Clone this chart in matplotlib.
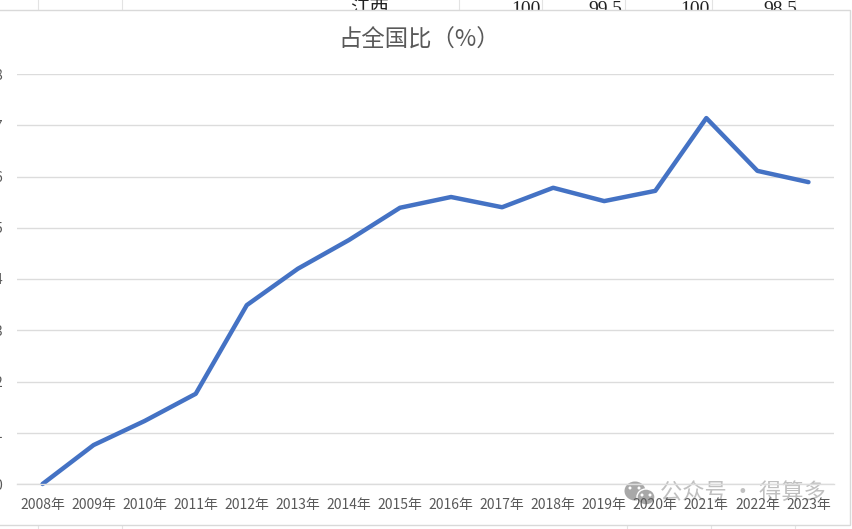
import matplotlib
matplotlib.use('Agg')
import matplotlib.pyplot as plt
from matplotlib.patches import Ellipse, Rectangle

plt.rcParams['font.family'] = ['Noto Sans CJK SC', 'DejaVu Sans']

W, H = 853, 529

years = ['%d年' % y for y in range(2008, 2024)]
share = [0, 0.76, 1.23, 1.76, 3.49, 4.2, 4.76, 5.39, 5.6, 5.4, 5.78, 5.52, 5.72, 7.14, 6.11, 5.89]
y_ticks = [0, 1, 2, 3, 4, 5, 6, 7, 8]

# strip of the spreadsheet showing above the chart
sheet_row = ['江西', '100', '99.5', '100', '98.5']
sheet_x = [370, 526, 605, 695, 780]
sheet_cols = [38, 122, 459, 542, 625, 712, 795]
below_cols = [38, 122, 627, 711, 795]

fig = plt.figure(figsize=(W / 100, H / 100), dpi=100, facecolor='white')

# overlay in pixel coordinates for the frame, sheet scraps and watermark
bg = fig.add_axes([0, 0, 1, 1], zorder=0)
bg.set_xlim(0, W)
bg.set_ylim(H, 0)
bg.axis('off')
for x in sheet_cols:
    bg.plot([x, x], [0, 10], color='#e3e3e3', lw=0.8, zorder=1)
for x in below_cols:
    bg.plot([x, x], [525, 529], color='#e3e3e3', lw=0.8, zorder=1)
for txt, x in zip(sheet_row, sheet_x):
    bg.text(x, 14, txt, ha='center', va='baseline', fontsize=14, color='#222222',
            family=['Liberation Serif', 'Noto Sans CJK SC'], zorder=2)
# white chart area hides the lower part of the sheet row
bg.add_patch(Rectangle((-5, 10), 855, 515, fc='white', ec='#d9d9d9', lw=1, zorder=3))

# watermark sits under the tick labels
wm = fig.add_axes([0, 0, 1, 1], zorder=1)
wm.set_xlim(0, W)
wm.set_ylim(H, 0)
wm.axis('off')
wm.add_patch(Ellipse((635, 491), 21, 19, fc='#a8a8a8', lw=0))
wm.add_patch(Ellipse((646, 497), 18, 16, fc='#a8a8a8', ec='white', lw=1))
for ex, ey in [(630, 488), (639, 488), (642, 495), (650, 495)]:
    wm.add_patch(Ellipse((ex, ey), 3, 3, fc='white', lw=0))
wm.text(743, 492, '公众号 · 得算多', ha='center', va='center', fontsize=16, color='#c0c0c0')

ax = fig.add_axes([17 / W, 1 - 484 / H, (834 - 17) / W, (484 - 74) / H], zorder=2)
ax.patch.set_alpha(0)
x_pos = list(range(len(years)))
ax.plot(x_pos, share, color='#4472c4', lw=3.2, solid_capstyle='round', solid_joinstyle='round', clip_on=False)
ax.set_xlim(-0.5, 15.5)
ax.set_ylim(0, 8)
ax.set_xticks(x_pos)
ax.set_xticklabels(years, fontsize=10, color='#595959')
ax.set_yticks(y_ticks)
ax.set_yticklabels(y_ticks, fontsize=10, color='#595959')
ax.tick_params(axis='both', length=0)
ax.tick_params(axis='x', pad=10)
ax.tick_params(axis='y', pad=10.5)
ax.grid(axis='y', color='#dcdcdc', lw=1)
ax.set_axisbelow(True)
for s in ['top', 'left', 'right']:
    ax.spines[s].set_visible(False)
ax.spines['bottom'].set_color('#dcdcdc')
ax.spines['bottom'].set_linewidth(1)

fig.text(419 / W, 1 - 40 / H, '占全国比（%）', ha='center', va='center', fontsize=16.8, color='#595959')

fig.savefig('out.png', dpi=100)
